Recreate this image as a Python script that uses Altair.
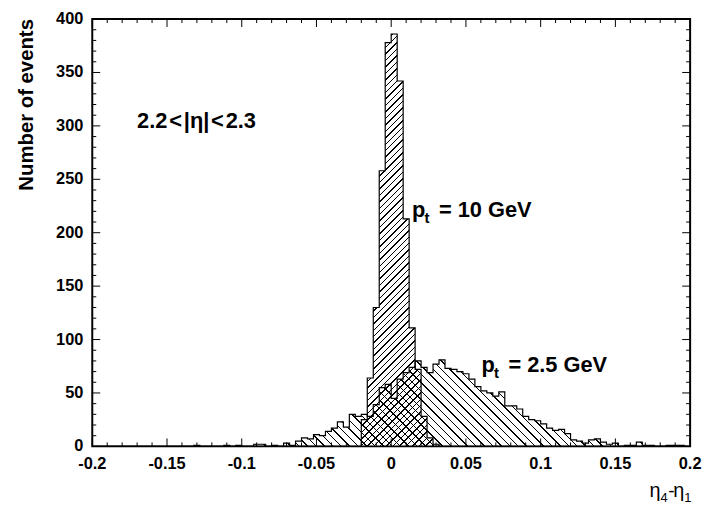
import altair as alt
import numpy as np
import pandas as pd

W, H = 603, 431
YMAX = 400
BIN = 0.004
FONT = "Liberation Sans"

# 10 GeV histogram, bins of 0.004 starting at left edge -0.020
pt10_start = -0.020
pt10_counts = [25, 64, 130, 258, 378, 386, 342, 213, 111, 72, 28, 8, 2]

# 2.5 GeV histogram, bins of 0.004 starting at left edge -0.132
pt25_start = -0.132
pt25_counts = [1, 0, 0, 0, 0, 1, 0, 1, 0, 0,
               2, 2, 0, 1, 0, 3, 1, 5, 8, 7,
               11, 10, 14, 17, 23, 18, 30, 28, 30, 28,
               39, 55, 58, 45, 63, 69, 74, 80, 74, 69,
               77, 81, 73, 72, 70, 68, 63, 56, 52, 50,
               47, 51, 38, 38, 35, 28, 25, 24, 21, 17,
               15, 16, 12, 6, 5, 3, 6, 7, 4, 2,
               3, 0, 1, 1, 4, 1, 1, 0, 0, 1,
               1, 1]

x_major = [-0.2, -0.15, -0.1, -0.05, 0, 0.05, 0.1, 0.15, 0.2]
x_labels = ["-0.2", "-0.15", "-0.1", "-0.05", "0", "0.05", "0.1", "0.15", "0.2"]
y_major = [0, 50, 100, 150, 200, 250, 300, 350, 400]
y_labels = [str(v) for v in y_major]

edges = np.round(-0.2 + BIN * np.arange(101), 4)


def full(start, counts):
    v = np.zeros(100)
    i0 = int(round((start + 0.2) / BIN))
    v[i0:i0 + len(counts)] = counts
    return v


def step_df(vals):
    return pd.DataFrame({"x": edges, "y": list(vals) + [0.0]})


CLEAR = "rgba(0,0,0,0)"


def hatch(vals, period, slash):
    m = max(vals)
    h = m / YMAX * H
    w = W
    k = (w + h) / (w * w + h * h)
    L = w + h
    t = 1.5
    stops = [{"offset": 0, "color": CLEAR}]
    s = period * 0.5
    while s + t < L:
        a, b = s / L, (s + t) / L
        stops += [{"offset": a, "color": CLEAR}, {"offset": a, "color": "black"},
                  {"offset": b, "color": "black"}, {"offset": b, "color": CLEAR}]
        s += period
    stops.append({"offset": 1, "color": CLEAR})
    if slash:
        g = {"x1": 0, "y1": 0, "x2": k * w, "y2": k * h}
    else:
        g = {"x1": 0, "y1": 1, "x2": k * w, "y2": 1 - k * h}
    return {"gradient": "linear", "stops": stops, **g}


v10 = full(pt10_start, pt10_counts)
v25 = full(pt25_start, pt25_counts)
d10 = step_df(v10)
d25 = step_df(v25)

xscale = alt.Scale(domain=[-0.2, 0.2], nice=False, zero=False)
yscale = alt.Scale(domain=[0, YMAX], nice=False)
X = alt.X("x:Q", scale=xscale, axis=None)
Y = alt.Y("y:Q", scale=yscale, axis=None)

area25 = alt.Chart(d25).mark_area(interpolate="step-after", fill=hatch(v25, 8.5, False),
                                  opacity=1).encode(x=X, y=Y)
area10 = alt.Chart(d10).mark_area(interpolate="step-after", fill=hatch(v10, 6.5, True),
                                  opacity=1).encode(x=X, y=Y)
line25 = alt.Chart(d25).mark_line(interpolate="step-after", color="black",
                                  strokeWidth=1.2).encode(x=X, y=Y)
line10 = alt.Chart(d10).mark_line(interpolate="step-after", color="black",
                                  strokeWidth=1.2).encode(x=X, y=Y)

# inside ticks on all four sides
x_minor = [round(-0.2 + 0.01 * i, 2) for i in range(41) if i % 5]
y_minor = [10 * i for i in range(41) if i % 5]

tick_layers = []
for vals, L in [(x_major, 8), (x_minor, 4)]:
    d = pd.DataFrame({"v": vals})
    base = alt.Chart(d).mark_rule(color="black", strokeWidth=1)
    xv = alt.X("v:Q", scale=xscale, axis=None)
    tick_layers.append(base.encode(x=xv, y=alt.value(H), y2=alt.value(H - L)))
    tick_layers.append(base.encode(x=xv, y=alt.value(0), y2=alt.value(L)))
for vals, L in [(y_major, 8), (y_minor, 4)]:
    d = pd.DataFrame({"v": vals})
    base = alt.Chart(d).mark_rule(color="black", strokeWidth=1)
    yv = alt.Y("v:Q", scale=yscale, axis=None)
    tick_layers.append(base.encode(y=yv, x=alt.value(0), x2=alt.value(L)))
    tick_layers.append(base.encode(y=yv, x=alt.value(W), x2=alt.value(W - L)))

# tick labels
xlab = alt.Chart(pd.DataFrame({"v": x_major, "t": x_labels})).mark_text(
    font=FONT, fontWeight="bold", fontSize=16.5, align="center", baseline="middle",
    color="black").encode(x=alt.X("v:Q", scale=xscale, axis=None), y=alt.value(H + 18), text="t:N")
ylab = alt.Chart(pd.DataFrame({"v": y_major, "t": y_labels})).mark_text(
    font=FONT, fontWeight="bold", fontSize=16.5, align="right", baseline="middle",
    color="black").encode(y=alt.Y("v:Q", scale=yscale, axis=None), x=alt.value(-9), text="t:N")

# annotations (data coordinates)
ann = pd.DataFrame({
    "x": [-0.170, 0.0140, 0.0605],
    "y": [298, 214.7, 69.9],
})
eta_label = alt.Chart(ann.iloc[[0]]).mark_text(
    text="2.2\u200a<\u200a|η|\u200a<\u200a2.3", font=FONT, fontWeight="bold", fontSize=22, align="left",
    baseline="alphabetic", color="black").encode(x=X, y=Y)

pt_layers = []
for idx, rest in [(1, "= 10 GeV"), (2, "= 2.5 GeV")]:
    row = ann.iloc[[idx]]
    pt_layers.append(alt.Chart(row).mark_text(text="p", font=FONT, fontWeight="bold", fontSize=22,
                                              align="left", baseline="alphabetic",
                                              color="black").encode(x=X, y=Y))
    pt_layers.append(alt.Chart(row).mark_text(text="t", font=FONT, fontWeight="bold", fontSize=15,
                                              align="left", baseline="alphabetic", dx=12.5, dy=6,
                                              color="black").encode(x=X, y=Y))
    pt_layers.append(alt.Chart(row).mark_text(text=rest, font=FONT, fontWeight="bold", fontSize=22,
                                              align="left", baseline="alphabetic", dx=27,
                                              color="black").encode(x=X, y=Y))

# axis titles
ytitle = alt.Chart(pd.DataFrame({"t": ["Number of events"]})).mark_text(
    font=FONT, fontWeight="bold", fontSize=20.5, angle=270, align="right", baseline="middle",
    color="black").encode(text="t:N", x=alt.value(-66), y=alt.value(0))

xt = pd.DataFrame({"t": ["η", "4", "-", "η", "1"],
                   "px": [562, 573, 581, 586, 597],
                   "py": [H + 51, H + 56, H + 51, H + 51, H + 56],
                   "fs": [20, 13, 19, 20, 13]})
xtitle_layers = []
for i in range(len(xt)):
    r = xt.iloc[[i]]
    xtitle_layers.append(alt.Chart(r).mark_text(
        font=FONT, fontSize=int(xt.fs[i]), align="left", baseline="alphabetic", color="black").encode(
        text="t:N", x=alt.value(int(xt.px[i])), y=alt.value(int(xt.py[i]))))

chart = alt.layer(area25, area10, line25, line10, *tick_layers, xlab, ylab, eta_label,
                  *pt_layers, ytitle, *xtitle_layers).properties(
    width=W, height=H, autosize="none",
    padding={"left": 85, "top": 9, "right": 14, "bottom": 60},
).configure_view(stroke="black", strokeWidth=2)

chart.save("out.html", embed_options={"renderer": "svg", "actions": False})
